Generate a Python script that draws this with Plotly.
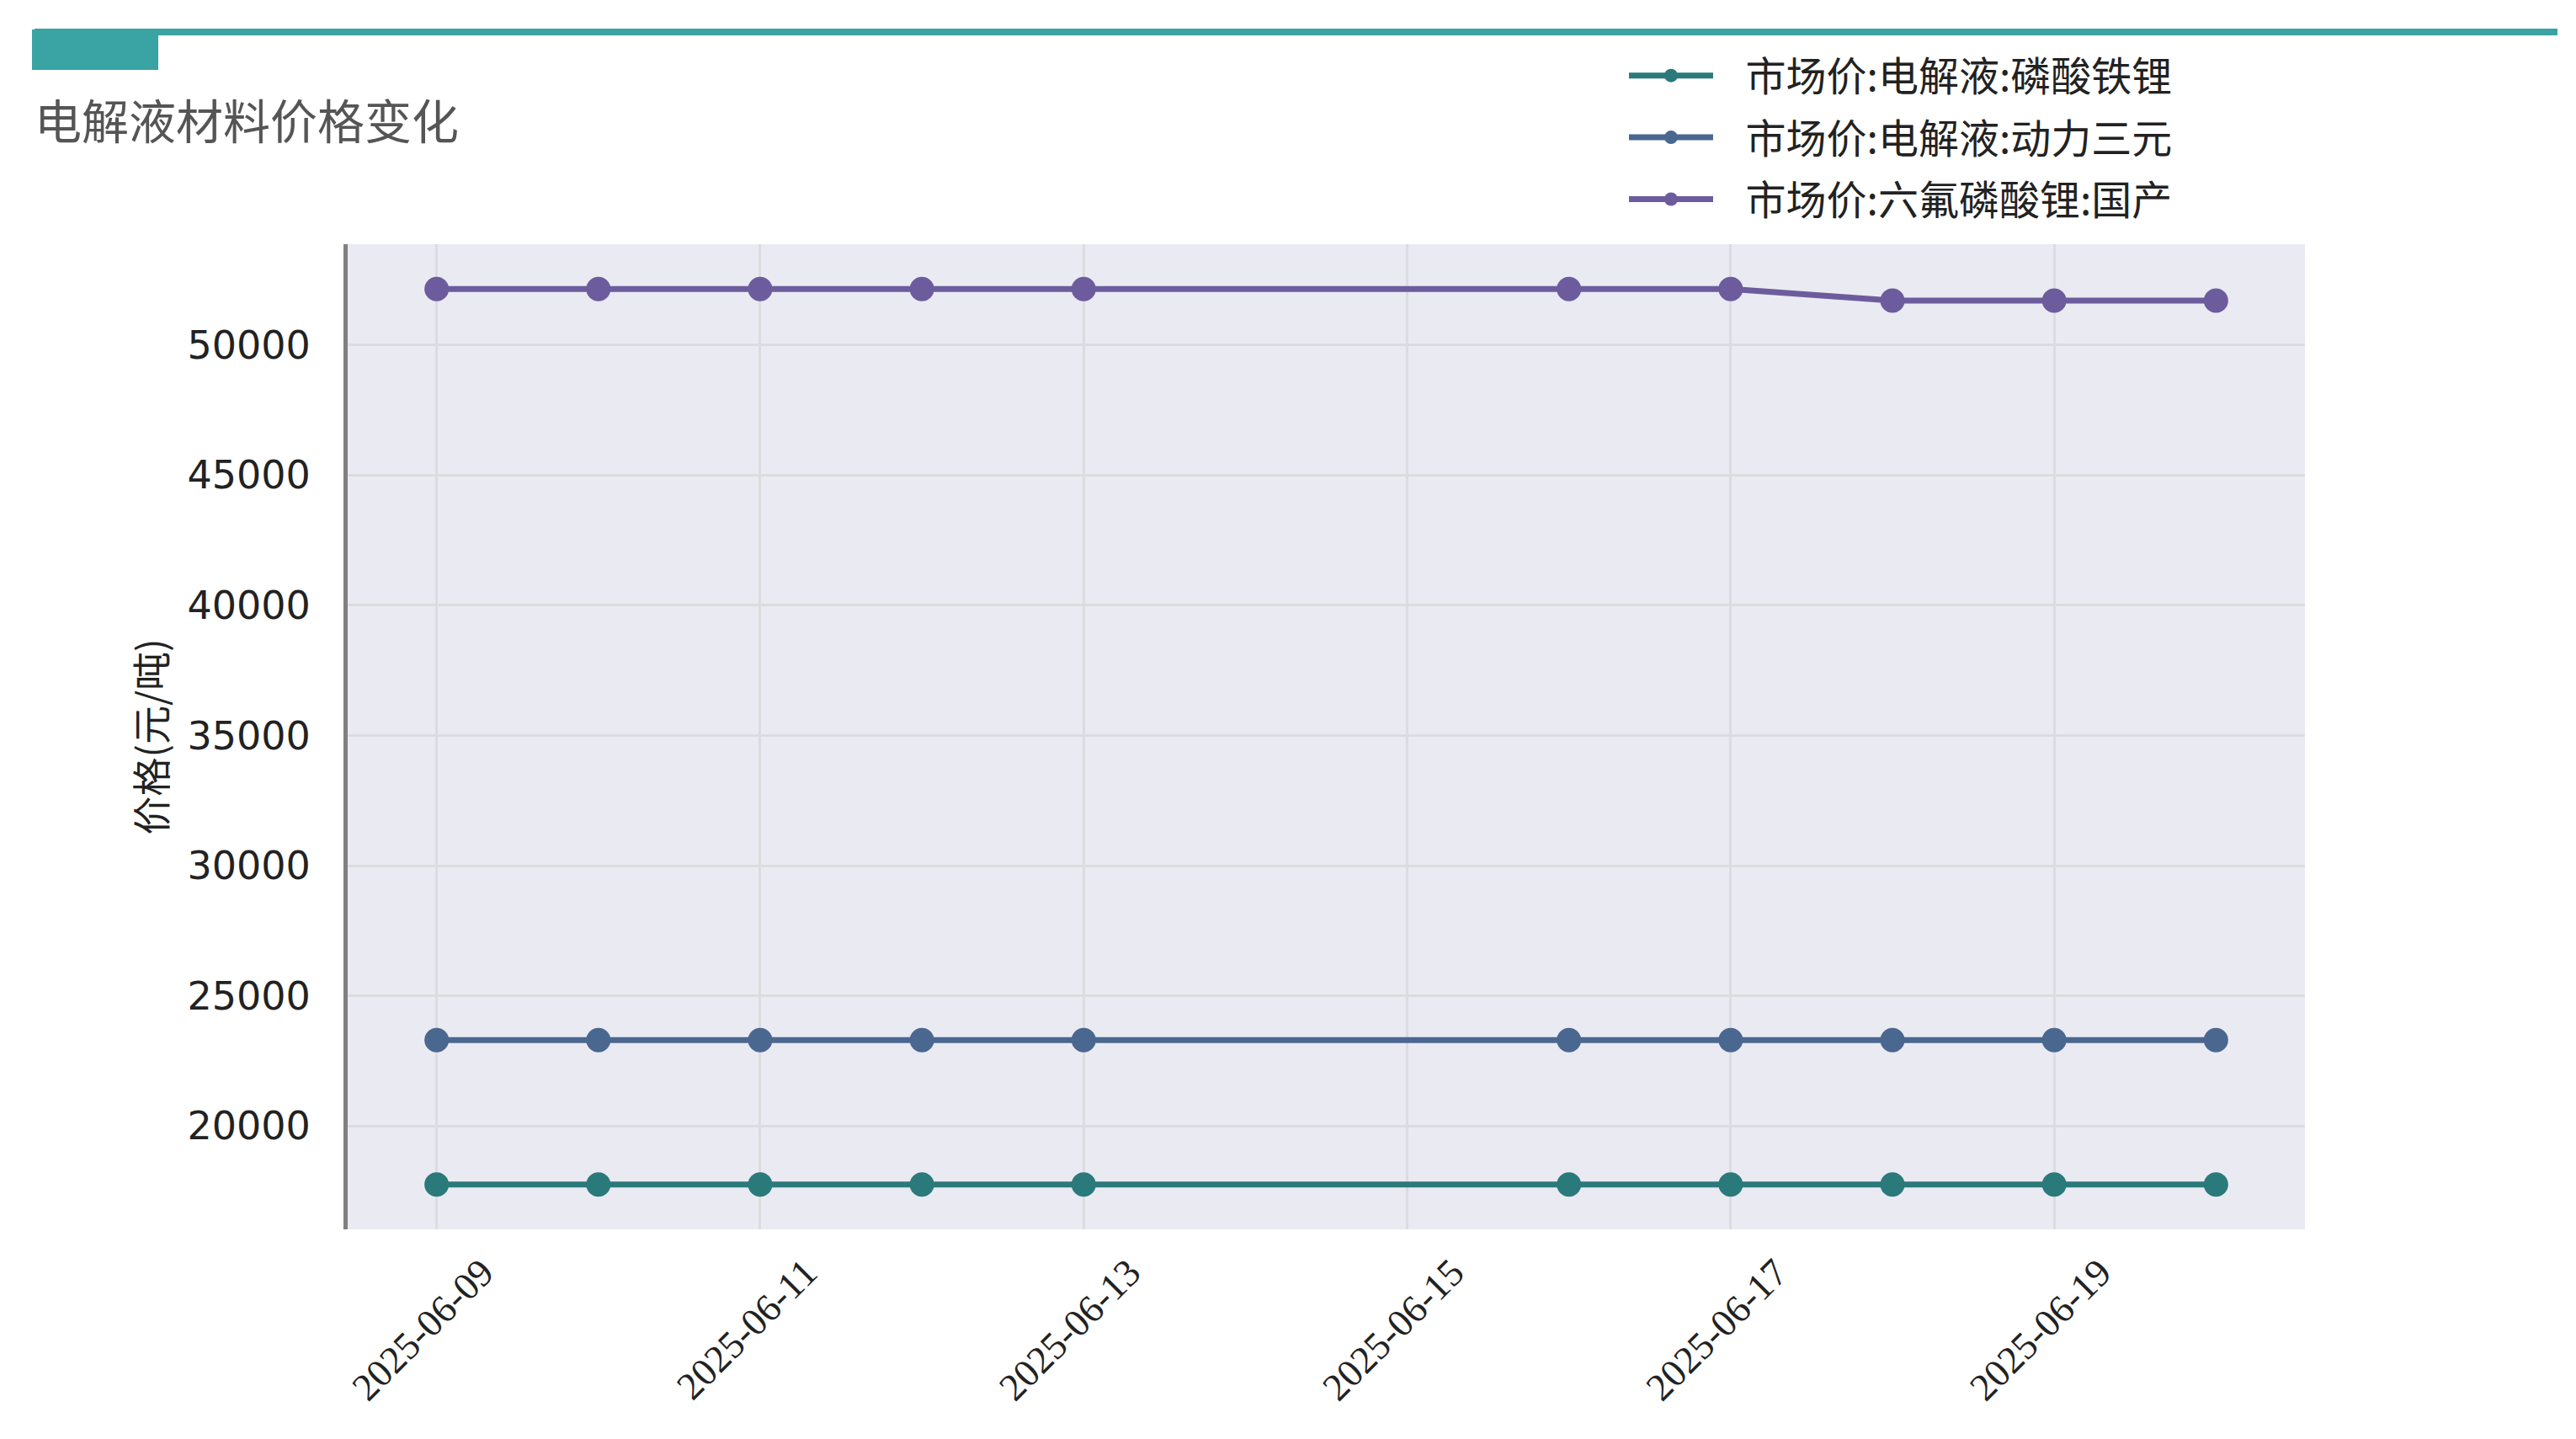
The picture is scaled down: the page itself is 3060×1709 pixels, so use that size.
"""
电解液材料价格变化 — 折线图
"""
import plotly.graph_objects as go

W, H = 3060, 1709
ML, MR, MT, MB = 405, 330, 282, 257

dates = ["2025-06-09", "2025-06-10", "2025-06-11", "2025-06-12", "2025-06-13",
         "2025-06-16", "2025-06-17", "2025-06-18", "2025-06-19", "2025-06-20"]
lfp = [17750, 17750, 17750, 17750, 17750, 17750, 17750, 17750, 17750, 17750]
ncm = [23300, 23300, 23300, 23300, 23300, 23300, 23300, 23300, 23300, 23300]
lipf6 = [52150, 52150, 52150, 52150, 52150, 52150, 52150, 51700, 51700, 51700]

names = ["市场价:电解液:磷酸铁锂", "市场价:电解液:动力三元", "市场价:六氟磷酸锂:国产"]
colors = ["#2B7A7B", "#4A6790", "#6D5C9D"]
xticks = ["2025-06-09", "2025-06-11", "2025-06-13", "2025-06-15", "2025-06-17", "2025-06-19"]
yticks = [20000, 25000, 30000, 35000, 40000, 45000, 50000]

CJK = "Noto Sans CJK SC"
TEAL = "#3AA3A4"

fig = go.Figure()
for i, (ys, name, c) in enumerate(zip([lfp, ncm, lipf6], names, colors)):
    fig.add_trace(go.Scatter(x=dates, y=ys, name="\u2002\u2009" + name,
                             legendgroup=f"g{i}", mode="lines+markers",
                             line=dict(color=c, width=7),
                             marker=dict(color=c, size=29)))

pw = W - ML - MR
ph = H - MT - MB
def px(x):  # pixel -> paper x
    return (x - ML) / pw
def py(y):  # pixel -> paper y
    return 1 + (MT - y) / ph

fig.update_layout(
    width=W, height=H,
    margin=dict(l=ML, r=MR, t=MT, b=MB, autoexpand=False),
    paper_bgcolor="white", plot_bgcolor="#EAEAF2",
    title=dict(text="电解液材料价格变化", xref="container", x=33 / W,
               yref="container", y=1 - 137 / H, yanchor="middle", xanchor="left",
               font=dict(family=CJK, size=56, color="#555555")),
    legend=dict(xref="container", x=1922 / W, yref="container", y=1 - 44 / H,
                xanchor="left", yanchor="top", bgcolor="rgba(0,0,0,0)",
                font=dict(family=CJK, size=48, color="#222222"),
                itemwidth=100, tracegroupgap=8, itemsizing="trace"),
    showlegend=True,
    shapes=[
        dict(type="line", xref="paper", yref="paper", x0=px(33), x1=px(3030),
             y0=py(30), y1=py(30), line=dict(color=TEAL, width=8)),
        dict(type="rect", xref="paper", yref="paper", x0=px(30), x1=px(180),
             y0=py(27), y1=py(75), fillcolor=TEAL, line=dict(width=0)),
    ],
)
fig.update_xaxes(type="date", range=["2025-06-08 10:48", "2025-06-20 13:12"],
                 tickvals=xticks, ticktext=xticks, tickangle=-45,
                 tickfont=dict(family="Liberation Serif", size=46, color="#222222"),
                 showgrid=True, gridcolor="#DCDCE0", gridwidth=3,
                 showline=False, zeroline=False, ticks="",
                 ticklabelshift=54, ticklabelstandoff=14)
fig.update_yaxes(range=[16030, 53870], tickvals=yticks, tickformat="d",
                 tickfont=dict(family="DejaVu Sans", size=46, color="#222222"),
                 showgrid=True, gridcolor="#DCDCE0", gridwidth=3,
                 showline=True, linecolor="#808080", linewidth=5,
                 zeroline=False, ticks="", ticklabelstandoff=30,
                 title=dict(text="价格(元/吨)", standoff=12,
                            font=dict(family=CJK, size=46, color="#222222")))

fig.write_html("out.html")
